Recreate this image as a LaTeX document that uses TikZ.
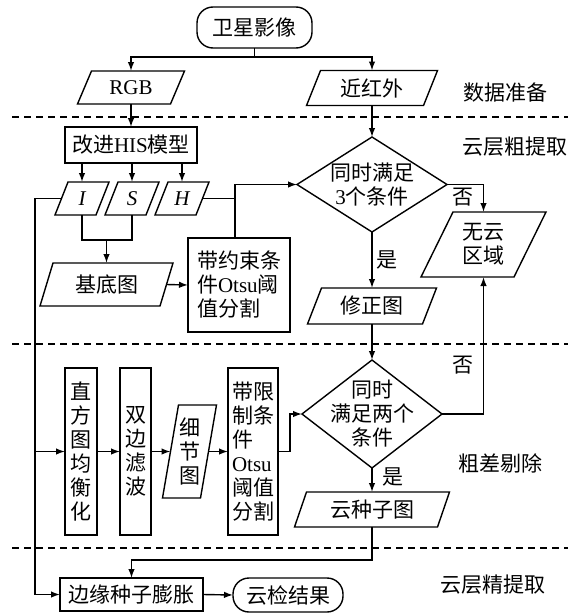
\documentclass[tikz,border=0pt]{standalone}
\usepackage{fontspec}
\setmainfont{Liberation Serif}
\newfontfamily\cjk{Noto Sans CJK SC}
\usetikzlibrary{arrows.meta,calc}
\newcommand\lt[1]{{\rmfamily #1}}
% parallelogram: name, x, y, mid-width, height, half-slant, text
\newcommand\para[7]{%
  \node[body, minimum width=#4, minimum height=#5] (#1) at (#2,#3) {#7};
  \draw ([xshift=-#6]#1.south west) -- ([xshift=-#6]#1.south east) -- ([xshift=#6]#1.north east) -- ([xshift=#6]#1.north west) -- cycle;}
% diamond: name, x, y, width, height, text
\newcommand\dia[6]{%
  \node[body, minimum width=#4, minimum height=#5] (#1) at (#2,#3) {#6};
  \draw (#1.north) -- (#1.east) -- (#1.south) -- (#1.west) -- cycle;}
\begin{document}
\begin{tikzpicture}[x=1pt,y=-1pt,
  line width=1.4pt,
  every node/.style={font=\cjk\fontsize{21}{24}\selectfont, inner sep=0pt, outer sep=0pt},
  box/.style={draw, rectangle, align=center},
  body/.style={rectangle, align=center},
  term/.style={draw, rectangle, rounded corners=16pt},
  arr/.style={-{Latex[length=9pt,width=6.5pt]}},
  sep/.style={dash pattern=on 7pt off 5pt, line width=1.1pt},
]
\useasboundingbox (0,0) rectangle (576,613);

% separators
\draw[sep] (12,117) -- (568,117);
\draw[sep] (12,344) -- (568,344);
\draw[sep] (12,548) -- (568,548);

% section labels
\node (l1) at (505,93) {数据准备};
\node (l2) at (515,147) {云层粗提取};
\node (l3) at (500,463) {粗差剔除};
\node (l4) at (493,585) {云层精提取};

% nodes
\node[term, minimum width=115, minimum height=41] (sat) at (254.5,27.5) {卫星影像};
\para{rgb}{131}{87.5}{93}{33}{7}{\lt{RGB}}
\para{nir}{372}{88}{117}{35}{7}{近红外}
\node[box, minimum width=132, minimum height=36] (his) at (131,145) {改进\lt{HIS}模型};
\para{I}{82}{198.5}{41}{33}{6.5}{\lt{\itshape I}}
\para{S}{132}{198.5}{41}{33}{6.5}{\lt{\itshape S}}
\para{H}{182}{198.5}{41}{33}{6.5}{\lt{\itshape H}}
\para{base}{106.5}{284.5}{120}{43}{6.5}{基底图}
\node[box, align=left, minimum width=102, minimum height=94] (otsuA) at (239,285) {带约束条\\件\lt{Otsu}阈\\值分割};
\dia{dA}{372}{184.5}{150}{95}{同时满足\\\lt{3}个条件}
\para{nocloud}{483.5}{244.5}{93}{65}{16}{无云\\区域}
\para{fix}{372}{306}{115}{36}{7}{修正图}
\node[box, minimum width=32, minimum height=167] (hist) at (81,451.5) {直\\方\\图\\均\\衡\\化};
\node[box, minimum width=31, minimum height=167] (bil) at (135.5,451.5) {双\\边\\滤\\波};
\para{detail}{189.5}{451.5}{38}{93}{8}{细\\节\\图}
\node[box, align=left, minimum width=50, minimum height=167] (otsuB) at (253,451.5) {带限\\制条\\件\\\lt{Otsu}\\阈值\\分割};
\dia{dB}{372}{414}{140}{108}{同时\\满足两个\\条件}
\para{seed}{372}{509.5}{143}{35}{6}{云种子图}
\node[box, minimum width=143, minimum height=33] (edge) at (131.5,594.5) {边缘种子膨胀};
\node[term, minimum width=110, minimum height=34] (res) at (288,595) {云检结果};

% helper coordinates
\coordinate (split) at (254.5,57);
\coordinate (j1) at (106.5,240);
\coordinate (k) at (235,184.5);
\coordinate (L) at (35,0);
\coordinate (m) at (0,560);
\coordinate (r) at (290,0);

% connectors
\draw (sat.south) -- (split);
\draw[arr] (split) -| (rgb.north);
\draw[arr] (split) -| (nir.north);
\draw[arr] (rgb.south) -- (his.north);
\foreach \n in {I,S,H} \draw[arr] (his.south -| \n.north) -- (\n.north);
\draw (I.south) |- (j1);
\draw (S.south) |- (j1);
\draw[arr] (j1) -- (base.north);
\draw[arr] (base.east) -- (otsuA.west);
\draw (H.east) -- (H.east -| k);
\draw[arr] (otsuA.north -| k) -- (k) -- (dA.west);
\draw[arr] (nir.south) -- (dA.north);
\draw[arr] (dA.east) -| (nocloud.north);
\draw[arr] (dA.south) -- (fix.north);
\draw[arr] (fix.south) -- (dB.north);
\draw[arr] (dB.east) -| (nocloud.south);
\draw[arr] (dB.south) -- (seed.north);
\draw[arr] (seed.south) |- (m -| edge.north) -- (edge.north);
\draw[arr] (I.west) -- (I.west -| L) -- (L |- edge.west) -- (edge.west);
\draw[arr] (L |- hist.west) -- (hist.west);
\draw[arr] (hist.east) -- (bil.west);
\draw[arr] (bil.east) -- (detail.west);
\draw[arr] (detail.east) -- (otsuB.west);
\draw[arr] (otsuB.east) -- (otsuB.east -| r) |- (dB.west);
\draw[arr] (edge.east) -- (res.west);

% branch labels
\node (noA) at (463,197) {否};
\node (yesA) at (387,260) {是};
\node (noB) at (463,365) {否};
\node (yesB) at (393,477) {是};
\end{tikzpicture}
\end{document}
